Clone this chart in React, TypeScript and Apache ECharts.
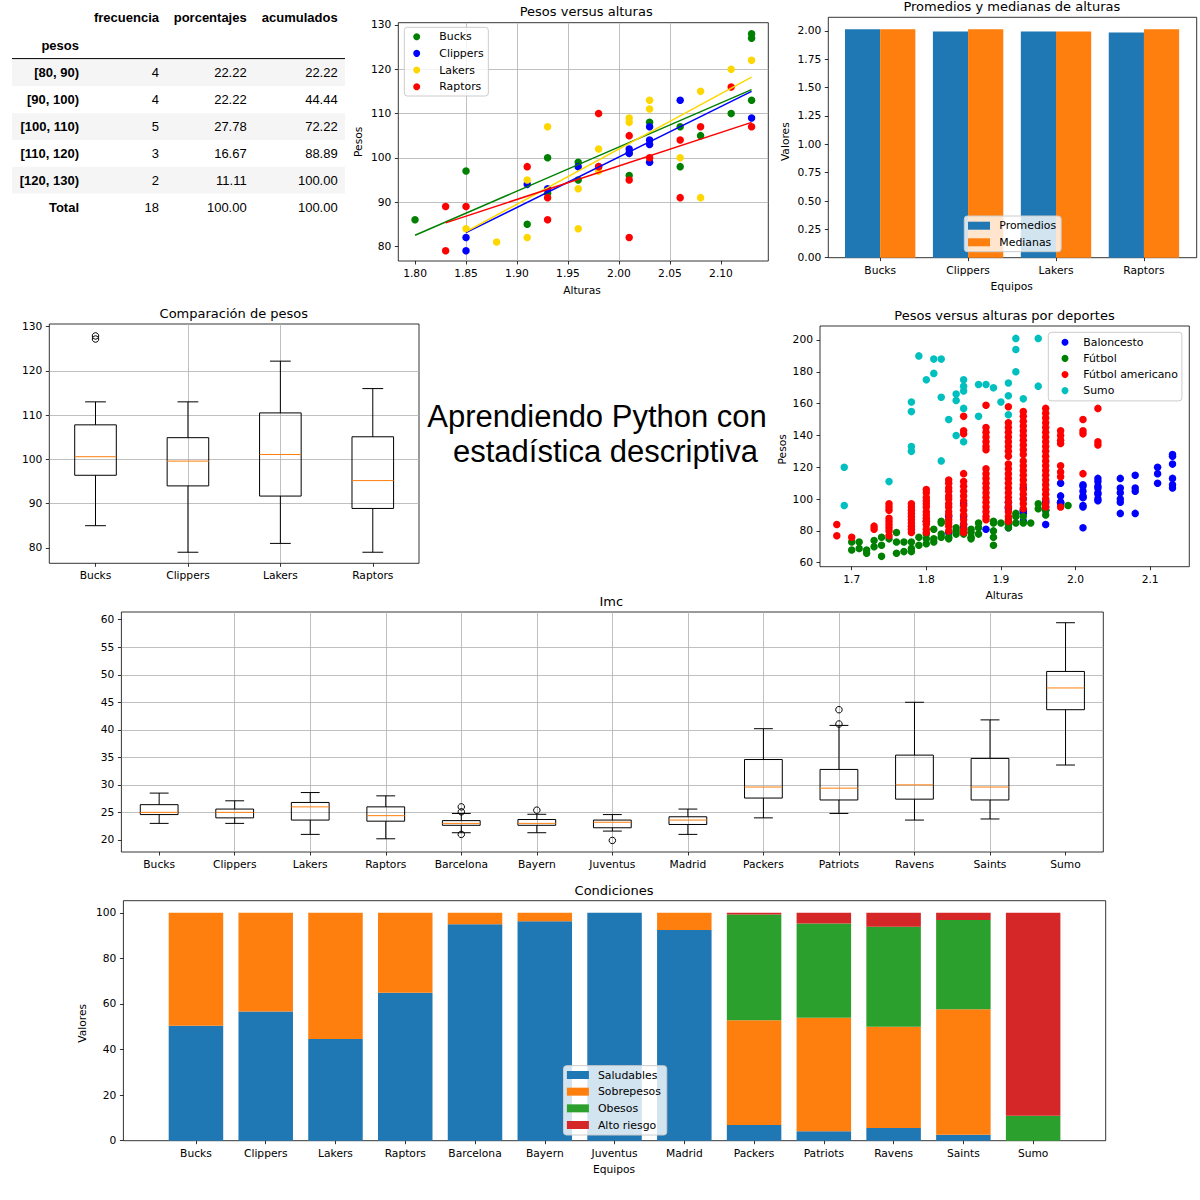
import React, { useEffect, useRef } from 'react';
import * as echarts from 'echarts';

const FONT = '"DejaVu Sans", sans-serif';
const TABLE_FONT = '"Liberation Sans", Arial, sans-serif';

// ---------------- DATA ----------------
const nbaTeams = ['Bucks', 'Clippers', 'Lakers', 'Raptors'];
const allTeams = ['Bucks', 'Clippers', 'Lakers', 'Raptors', 'Barcelona', 'Bayern', 'Juventus', 'Madrid', 'Packers', 'Patriots', 'Ravens', 'Saints', 'Sumo'];

// table (pesos de un equipo)
const tableColumns = ['frecuencia', 'porcentajes', 'acumulados'];
const tableIndexName = 'pesos';
const tableRows = ['[80, 90)', '[90, 100)', '[100, 110)', '[110, 120)', '[120, 130)', 'Total'];
const tableFrecuencia = ['4', '4', '5', '3', '2', '18'];
const tablePorcentajes = ['22.22', '22.22', '27.78', '16.67', '11.11', '100.00'];
const tableAcumulados = ['22.22', '44.44', '72.22', '88.89', '100.00', '100.00'];

// Pesos versus alturas  [altura, peso]
const bucksPts = [[1.80, 86], [1.85, 97], [1.91, 85], [1.93, 100], [1.93, 92], [1.96, 99], [1.96, 95], [2.01, 101], [2.01, 96], [2.03, 108], [2.06, 107], [2.06, 98], [2.08, 105], [2.11, 110], [2.13, 128], [2.13, 127], [2.13, 113]];
const clippersPts = [[1.85, 82], [1.85, 79], [1.91, 94], [1.93, 93], [1.96, 98], [1.98, 98], [2.01, 102], [2.01, 101], [2.03, 107], [2.03, 104], [2.03, 103], [2.03, 99], [2.06, 113], [2.13, 109]];
const lakersPts = [[1.85, 84], [1.88, 81], [1.91, 95], [1.91, 82], [1.93, 107], [1.96, 93], [1.96, 84], [1.98, 102], [1.98, 97], [2.01, 109], [2.01, 108], [2.03, 113], [2.03, 111], [2.06, 100], [2.08, 115], [2.08, 91], [2.11, 120], [2.13, 122]];
const raptorsPts = [[1.83, 89], [1.83, 79], [1.85, 89], [1.91, 98], [1.93, 91], [1.93, 86], [1.98, 110], [1.98, 98], [2.01, 105], [2.01, 95], [2.01, 82], [2.03, 100], [2.06, 104], [2.06, 91], [2.08, 107], [2.11, 116], [2.13, 107]];
// fitted lines (endpoints)
const bucksFit = [[1.80, 82.5], [2.13, 115.4]];
const clippersFit = [[1.85, 83.1], [2.13, 115.0]];
const lakersFit = [[1.85, 83.3], [2.13, 118.2]];
const raptorsFit = [[1.83, 85.3], [2.13, 108.0]];
const pesoAlturaXTicks = [1.80, 1.85, 1.90, 1.95, 2.00, 2.05, 2.10];
const pesoYTicks = [80, 90, 100, 110, 120, 130];

// Promedios y medianas de alturas
const alturaPromedios = [2.015, 1.994, 1.994, 1.985];
const alturaMedianas = [2.015, 2.015, 1.994, 2.015];
const valoresTicks = [0, 0.25, 0.5, 0.75, 1.0, 1.25, 1.5, 1.75, 2.0];

// Comparación de pesos: [whisker bajo, Q1, mediana, Q3, whisker alto]
const pesosBox = [
  [85, 96.4, 100.6, 107.8, 113],
  [79, 94.0, 99.6, 104.9, 113],
  [81, 91.7, 101.1, 110.5, 122.2],
  [79, 88.9, 95.2, 105.1, 116],
];
const pesosOutliers = [[1, 127.2], [1, 127.9]];

// Pesos versus alturas por deportes
const futbolPts = [[1.70, 73], [1.70, 68], [1.71, 73], [1.71, 69], [1.72, 68], [1.72, 66], [1.73, 74], [1.73, 70], [1.74, 76], [1.74, 71], [1.74, 64], [1.75, 75], [1.76, 79], [1.76, 73], [1.76, 66], [1.77, 73], [1.77, 67], [1.78, 73], [1.78, 69], [1.78, 67], [1.79, 76], [1.79, 71], [1.80, 78], [1.80, 75], [1.80, 72], [1.81, 81], [1.81, 75], [1.81, 73], [1.82, 86], [1.82, 85], [1.82, 78], [1.82, 76], [1.83, 76], [1.83, 75], [1.84, 82], [1.84, 80], [1.84, 78], [1.85, 80], [1.85, 78], [1.86, 81], [1.86, 79], [1.86, 76], [1.86, 75], [1.87, 85], [1.87, 82], [1.87, 78], [1.89, 86], [1.89, 85], [1.89, 80], [1.89, 76], [1.89, 71], [1.90, 85], [1.91, 87], [1.91, 84], [1.91, 82], [1.92, 91], [1.92, 89], [1.92, 85], [1.93, 89], [1.93, 85], [1.94, 85], [1.95, 97], [1.95, 94], [1.96, 93], [1.96, 90], [1.99, 96]];
const futbolAmericanoPts = [
  [1.68, 84], [1.68, 77], [1.70, 76], [1.73, 83], [1.73, 81],
  [1.75, 97], [1.75, 95], [1.75, 93], [1.75, 88], [1.75, 86], [1.75, 84], [1.75, 82], [1.75, 80], [1.75, 77],
  [1.78, 97], [1.78, 95], [1.78, 93], [1.78, 91], [1.78, 89], [1.78, 87], [1.78, 85], [1.78, 83], [1.78, 81], [1.78, 79],
  [1.80, 106], [1.80, 104], [1.80, 101], [1.80, 99], [1.80, 97], [1.80, 95], [1.80, 92], [1.80, 90], [1.80, 88], [1.80, 86], [1.80, 84], [1.80, 81], [1.80, 79],
  [1.83, 112], [1.83, 110], [1.83, 107], [1.83, 105], [1.83, 102], [1.83, 100], [1.83, 97], [1.83, 95], [1.83, 92], [1.83, 90], [1.83, 87], [1.83, 85], [1.83, 83], [1.83, 80],
  [1.85, 152], [1.85, 143], [1.85, 141], [1.85, 116], [1.85, 111], [1.85, 108], [1.85, 105], [1.85, 102], [1.85, 99], [1.85, 96], [1.85, 93], [1.85, 90], [1.85, 87], [1.85, 84], [1.85, 81], [1.85, 79],
  [1.88, 159], [1.88, 145], [1.88, 142], [1.88, 139], [1.88, 136], [1.88, 133], [1.88, 131], [1.88, 119], [1.88, 116], [1.88, 113], [1.88, 110], [1.88, 107], [1.88, 104], [1.88, 101], [1.88, 98], [1.88, 95], [1.88, 92], [1.88, 89], [1.88, 87],
  [1.91, 158], [1.91, 148], [1.91, 145], [1.91, 142], [1.91, 139], [1.91, 136], [1.91, 133], [1.91, 130], [1.91, 127], [1.91, 122], [1.91, 119], [1.91, 116], [1.91, 113], [1.91, 110], [1.91, 107], [1.91, 104], [1.91, 101], [1.91, 98], [1.91, 95], [1.91, 92], [1.91, 89], [1.91, 86],
  [1.93, 155], [1.93, 152], [1.93, 149], [1.93, 146], [1.93, 143], [1.93, 140], [1.93, 137], [1.93, 134], [1.93, 131], [1.93, 128], [1.93, 124], [1.93, 121], [1.93, 118], [1.93, 115], [1.93, 112], [1.93, 109], [1.93, 106], [1.93, 103], [1.93, 100], [1.93, 97], [1.93, 94],
  [1.96, 157], [1.96, 154], [1.96, 151], [1.96, 148], [1.96, 145], [1.96, 142], [1.96, 139], [1.96, 136], [1.96, 133], [1.96, 130], [1.96, 127], [1.96, 124], [1.96, 121], [1.96, 118], [1.96, 115], [1.96, 112], [1.96, 109], [1.96, 106], [1.96, 103], [1.96, 100], [1.96, 97], [1.96, 95],
  [1.98, 143], [1.98, 140], [1.98, 137], [1.98, 135], [1.98, 121], [1.98, 117], [1.98, 114], [1.98, 95],
  [2.01, 150], [2.01, 143], [2.01, 141], [2.01, 116],
  [2.03, 157], [2.03, 136], [2.03, 134],
];
const sumoPts = [[1.69, 120], [1.69, 96], [1.75, 111], [1.78, 161], [1.78, 155], [1.78, 133], [1.78, 130], [1.79, 190], [1.80, 175], [1.81, 179], [1.81, 188], [1.82, 188], [1.82, 164], [1.82, 124], [1.83, 150], [1.84, 166], [1.84, 162], [1.84, 140], [1.85, 175], [1.85, 171], [1.85, 168], [1.85, 157], [1.85, 136], [1.87, 172], [1.87, 152], [1.88, 172], [1.89, 170], [1.90, 161], [1.91, 173], [1.91, 165], [1.91, 153], [1.92, 201], [1.92, 194], [1.92, 180], [1.93, 163], [1.95, 201], [1.95, 171]];
const deportesXTicks = [1.7, 1.8, 1.9, 2.0, 2.1];
const deportesYTicks = [60, 80, 100, 120, 140, 160, 180, 200];

// Imc: [whisker bajo, Q1, mediana, Q3, whisker alto]
const imcBox = [
  [23.0, 24.6, 25.0, 26.4, 28.5],
  [23.0, 24.0, 25.0, 25.6, 27.1],
  [21.0, 23.6, 26.0, 26.8, 28.6],
  [20.2, 23.4, 24.4, 26.0, 28.0],
  [21.3, 22.65, 23.0, 23.5, 24.8],
  [21.3, 22.65, 23.0, 23.7, 24.65],
  [21.6, 22.2, 23.2, 23.6, 24.6],
  [21.0, 22.8, 23.6, 24.2, 25.6],
  [24.0, 27.6, 29.6, 34.6, 40.2],
  [24.8, 27.25, 29.4, 32.8, 40.8],
  [23.6, 27.4, 30.0, 35.4, 45.0],
  [23.8, 27.25, 29.6, 34.8, 41.8],
  [33.6, 43.65, 47.6, 50.6, 59.45],
];
const imcOutliers = [[5, 26.0], [5, 25.1], [5, 21.0], [6, 25.4], [7, 19.9], [10, 41.05], [10, 43.65]];
const imcYTicks = [20, 25, 30, 35, 40, 45, 50, 55, 60];

// Condiciones (%)
const saludables = [50.4, 56.7, 44.6, 64.9, 95.0, 96.3, 100, 92.4, 6.9, 4.2, 5.6, 2.6, 0];
const sobrepesos = [49.6, 43.3, 55.4, 35.1, 5.0, 3.7, 0, 7.6, 46.0, 49.7, 44.4, 55.1, 0];
const obesos = [0, 0, 0, 0, 0, 0, 0, 0, 46.4, 41.4, 43.9, 39.1, 11.0];
const altoRiesgo = [0, 0, 0, 0, 0, 0, 0, 0, 0.7, 4.7, 6.1, 3.2, 89.0];
const condYTicks = [0, 20, 40, 60, 80, 100];

const bigTitle = ['Aprendiendo Python con', 'estadística descriptiva'];

// ---------------- HELPERS ----------------
const TICK_FS = 10.7;
const LEGEND_FS = 10.9;

function vAxis(gridIndex: number, min: number, max: number, step: number, ticks: number[], fmt: (v: number) => string, grid: boolean) {
  return {
    type: 'value', gridIndex, min, max, minInterval: step, maxInterval: step,
    axisLine: { show: false, onZero: false },
    axisTick: { show: true, customValues: ticks, length: 3.5, lineStyle: { color: '#000', width: 0.8 } },
    axisLabel: { show: true, customValues: ticks, formatter: (v: number) => fmt(v), margin: 7, color: '#000', fontFamily: FONT, fontSize: TICK_FS, hideOverlap: false },
    splitLine: { show: grid, showMinLine: false, showMaxLine: false, lineStyle: { color: '#b0b0b0', width: 0.8 } },
    splitArea: { show: false },
  };
}

function txt(x: number, y: number, s: string, font: string, align = 'center', rotation = 0) {
  return {
    type: 'text', x, y, rotation, silent: true,
    style: { text: s, font, fill: '#000', align, textAlign: align, verticalAlign: 'middle', textVerticalAlign: 'middle' },
  };
}

function makeBoxRenderer(widthFrac: number) {
  return function (_params: any, api: any) {
    const pos = api.value(0);
    const lo = api.coord([pos, api.value(1)]);
    const q1 = api.coord([pos, api.value(2)]);
    const med = api.coord([pos, api.value(3)]);
    const q3 = api.coord([pos, api.value(4)]);
    const hi = api.coord([pos, api.value(5)]);
    const unit = api.size([1, 0])[0];
    const w = unit * widthFrac;
    const cx = lo[0];
    const st = () => ({ stroke: '#000', lineWidth: 1, fill: 'none' });
    return {
      type: 'group',
      children: [
        { type: 'line', shape: { x1: cx, y1: q1[1], x2: cx, y2: lo[1] }, style: st() },
        { type: 'line', shape: { x1: cx, y1: q3[1], x2: cx, y2: hi[1] }, style: st() },
        { type: 'line', shape: { x1: cx - w / 4, y1: lo[1], x2: cx + w / 4, y2: lo[1] }, style: st() },
        { type: 'line', shape: { x1: cx - w / 4, y1: hi[1], x2: cx + w / 4, y2: hi[1] }, style: st() },
        { type: 'rect', shape: { x: cx - w / 2, y: q3[1], width: w, height: q1[1] - q3[1] }, style: st() },
        { type: 'line', shape: { x1: cx - w / 2, y1: med[1], x2: cx + w / 2, y2: med[1] }, style: { stroke: '#ff7f0e', lineWidth: 1 } },
      ],
    };
  };
}

function legendCfg(left: number, top: number, names: string[], icon: string, iw: number, ih: number, gap: number, padding: number[], textPad: number) {
  return {
    show: true, orient: 'vertical', left, top, data: names, icon, itemWidth: iw, itemHeight: ih, itemGap: gap,
    padding, selectedMode: false, backgroundColor: 'rgba(255,255,255,0.8)', borderColor: '#cccccc', borderWidth: 1, borderRadius: 3,
    itemStyle: { opacity: 1 },
    textStyle: { fontFamily: FONT, fontSize: LEGEND_FS, color: '#000', lineHeight: 12, padding: [0, 0, 0, textPad] },
  };
}

function buildOption() {
  const gridBase = { show: true, borderColor: '#000', borderWidth: 0.8, backgroundColor: 'transparent', containLabel: false, outerBoundsMode: 'none' };
  const grids = [
    { left: 398.3, top: 22.7, width: 370, height: 238.3 },
    { left: 828.3, top: 17.3, width: 368.4, height: 240.4 },
    { left: 49.3, top: 324, width: 369.7, height: 239.3 },
    { left: 820, top: 326, width: 369.3, height: 240.7 },
    { left: 121.4, top: 612, width: 981.9, height: 240 },
    { left: 123.4, top: 900.7, width: 982.3, height: 240 },
  ].map((g) => ({ ...g, ...gridBase }));

  const f2 = (v: number) => v.toFixed(2);
  const f1 = (v: number) => v.toFixed(1);
  const f0 = (v: number) => String(Math.round(v));

  const xAxis = [
    vAxis(0, 1.7836, 2.1464, 0.05, pesoAlturaXTicks, f2, true),
    vAxis(1, -0.59, 3.6, 1, nbaTeams.map((_, i) => i), (v) => nbaTeams[Math.round(v)], false),
    vAxis(2, 0.5, 4.5, 1, nbaTeams.map((_, i) => i + 1), (v) => nbaTeams[Math.round(v) - 1], true),
    vAxis(3, 1.6575, 2.1525, 0.1, deportesXTicks, f1, false),
    vAxis(4, 0.5, 13.5, 1, allTeams.map((_, i) => i + 1), (v) => allTeams[Math.round(v) - 1], true),
    vAxis(5, -1.04, 13.04, 1, allTeams.map((_, i) => i), (v) => allTeams[Math.round(v)], false),
  ].map((a) => ({ ...a, position: 'bottom' }));

  const yAxis = [
    vAxis(0, 76.7, 130.5, 10, pesoYTicks, f0, true),
    vAxis(1, 0, 2.12, 0.25, valoresTicks, f2, false),
    vAxis(2, 76.5, 130.6, 10, pesoYTicks, f0, true),
    vAxis(3, 57.5, 208.8, 20, deportesYTicks, f0, false),
    vAxis(4, 17.8, 61.4, 5, imcYTicks, f0, true),
    vAxis(5, 0, 105.3, 20, condYTicks, f0, false),
  ].map((a) => ({ ...a, position: 'left' }));

  const sc = (name: string, data: number[][], color: string, gi: number) => ({
    type: 'scatter', name, data, xAxisIndex: gi, yAxisIndex: gi, symbol: 'circle', symbolSize: 7.5,
    itemStyle: { color, borderWidth: 0, opacity: 1 }, emphasis: { disabled: true },
  });
  const fit = (name: string, data: number[][], color: string) => ({
    type: 'line', name, data, xAxisIndex: 0, yAxisIndex: 0, symbol: 'none', showSymbol: false,
    lineStyle: { color, width: 1.5 }, emphasis: { disabled: true }, z: 3,
  });
  const flier = (name: string, data: number[][], gi: number) => ({
    type: 'scatter', name, data, xAxisIndex: gi, yAxisIndex: gi, symbol: 'circle', symbolSize: 6.5,
    itemStyle: { color: 'rgba(0,0,0,0)', borderColor: '#000', borderWidth: 1, opacity: 1 }, emphasis: { disabled: true }, z: 4,
  });
  const box = (name: string, data: number[][], gi: number, frac: number) => ({
    type: 'custom', name, xAxisIndex: gi, yAxisIndex: gi,
    data: data.map((b, i) => [i + 1, ...b]),
    encode: { x: 0, y: [1, 2, 3, 4, 5] },
    renderItem: makeBoxRenderer(frac), z: 3,
  });
  // value first so that the stack is computed on the y dimension
  const condBar = (name: string, vals: number[], color: string) => ({
    type: 'bar', name, stack: 'cond', xAxisIndex: 5, yAxisIndex: 5, barWidth: 54.5,
    data: vals.map((v, i) => [v, i]), encode: { x: 1, y: 0 },
    itemStyle: { color }, emphasis: { disabled: true },
  });

  const series: any[] = [
    sc('Bucks', bucksPts, '#008000', 0),
    sc('Clippers', clippersPts, '#0000ff', 0),
    sc('Lakers', lakersPts, '#ffd700', 0),
    sc('Raptors', raptorsPts, '#ff0000', 0),
    fit('Bucks ajuste', bucksFit, '#008000'),
    fit('Clippers ajuste', clippersFit, '#0000ff'),
    fit('Lakers ajuste', lakersFit, '#ffd700'),
    fit('Raptors ajuste', raptorsFit, '#ff0000'),
    {
      type: 'bar', name: 'Promedios', xAxisIndex: 1, yAxisIndex: 1, barWidth: 35.2, barGap: '-100%',
      data: alturaPromedios.map((v, i) => [i - 0.2, v]), itemStyle: { color: '#1f77b4' }, emphasis: { disabled: true },
    },
    {
      type: 'bar', name: 'Medianas', xAxisIndex: 1, yAxisIndex: 1, barWidth: 35.2, barGap: '-100%',
      data: alturaMedianas.map((v, i) => [i + 0.2, v]), itemStyle: { color: '#ff7f0e' }, emphasis: { disabled: true },
    },
    box('Pesos caja', pesosBox, 2, 0.45),
    flier('Pesos atípicos', pesosOutliers, 2),
    sc('Baloncesto', [...bucksPts, ...clippersPts, ...lakersPts, ...raptorsPts], '#0000ff', 3),
    sc('Fútbol', futbolPts, '#008000', 3),
    sc('Fútbol americano', futbolAmericanoPts, '#ff0000', 3),
    sc('Sumo', sumoPts, '#00bfbf', 3),
    box('Imc caja', imcBox, 4, 0.5),
    flier('Imc atípicos', imcOutliers, 4),
    condBar('Saludables', saludables, '#1f77b4'),
    condBar('Sobrepesos', sobrepesos, '#ff7f0e'),
    condBar('Obesos', obesos, '#2ca02c'),
    condBar('Alto riesgo', altoRiesgo, '#d62728'),
  ];

  const legend = [
    legendCfg(404.3, 27.3, ['Bucks', 'Clippers', 'Lakers', 'Raptors'], 'circle', 7, 7, 4.67, [3.4, 4.7, 3.3, 8.9], 14.1),
    legendCfg(964.3, 216, ['Promedios', 'Medianas'], 'rect', 22, 8, 4.6, [3.7, 5, 3.4, 3.7], 4.3),
    legendCfg(1048.3, 332.3, ['Baloncesto', 'Fútbol', 'Fútbol americano', 'Sumo'], 'circle', 7, 7, 4.1, [4, 4, 4.3, 13.2], 9.8),
    legendCfg(563.5, 1065.7, ['Saludables', 'Sobrepesos', 'Obesos', 'Alto riesgo'], 'rect', 22, 8, 4.67, [3.3, 5.8, 4, 3.4], 4),
  ];

  const TITLE_FONT = `13px ${FONT}`;
  const LABEL_FONT = `${TICK_FS}px ${FONT}`;
  const TB = `bold 13px ${TABLE_FONT}`;
  const TN = `13px ${TABLE_FONT}`;
  const rowY = [72.3, 99.2, 126.5, 153.4, 180.2, 207.2];
  const stripeTop = [59.3, 86.1, 113.3, 140.1, 166.8];
  const colRight = [159, 246.7, 337.7];

  const graphic: any[] = [];
  // table
  stripeTop.forEach((y, i) => {
    if (i % 2 === 0) graphic.push({ type: 'rect', silent: true, shape: { x: 12, y, width: 333, height: 26.8 }, style: { fill: '#f5f5f5' } });
  });
  graphic.push({ type: 'line', silent: true, shape: { x1: 12, y1: 58.6, x2: 345, y2: 58.6 }, style: { stroke: '#000', lineWidth: 1 } });
  tableColumns.forEach((c, j) => graphic.push(txt(colRight[j], 17.3, c, TB, 'right')));
  graphic.push(txt(79, 45, tableIndexName, TB, 'right'));
  tableRows.forEach((r, i) => {
    graphic.push(txt(79, rowY[i], r, TB, 'right'));
    graphic.push(txt(colRight[0], rowY[i], tableFrecuencia[i], TN, 'right'));
    graphic.push(txt(colRight[1], rowY[i], tablePorcentajes[i], TN, 'right'));
    graphic.push(txt(colRight[2], rowY[i], tableAcumulados[i], TN, 'right'));
  });
  // chart titles & axis labels
  graphic.push(txt(586.2, 11, 'Pesos versus alturas', TITLE_FONT));
  graphic.push(txt(582, 290, 'Alturas', LABEL_FONT));
  graphic.push(txt(358, 141.8, 'Pesos', LABEL_FONT, 'center', Math.PI / 2));
  graphic.push(txt(1011.8, 6.7, 'Promedios y medianas de alturas', TITLE_FONT));
  graphic.push(txt(1011.7, 286, 'Equipos', LABEL_FONT));
  graphic.push(txt(785, 141.7, 'Valores', LABEL_FONT, 'center', Math.PI / 2));
  graphic.push(txt(233.8, 313.3, 'Comparación de pesos', TITLE_FONT));
  graphic.push(txt(1004.5, 315.7, 'Pesos versus alturas por deportes', TITLE_FONT));
  graphic.push(txt(1004.3, 595, 'Alturas', LABEL_FONT));
  graphic.push(txt(782.3, 449.3, 'Pesos', LABEL_FONT, 'center', Math.PI / 2));
  graphic.push(txt(611.3, 601, 'Imc', TITLE_FONT));
  graphic.push(txt(614, 890, 'Condiciones', TITLE_FONT));
  graphic.push(txt(614, 1169.3, 'Equipos', LABEL_FONT));
  graphic.push(txt(82, 1023.3, 'Valores', LABEL_FONT, 'center', Math.PI / 2));
  // big title
  graphic.push(txt(427.3, 416.5, bigTitle[0], `31px ${TABLE_FONT}`, 'left'));
  graphic.push(txt(453, 451.5, bigTitle[1], `31px ${TABLE_FONT}`, 'left'));

  return {
    animation: false,
    backgroundColor: '#ffffff',
    textStyle: { fontFamily: FONT },
    grid: grids,
    xAxis,
    yAxis,
    legend,
    series,
    graphic: { elements: graphic },
  };
}

export default function App() {
  const ref = useRef<HTMLDivElement>(null);
  useEffect(() => {
    const chart = echarts.init(ref.current as HTMLDivElement, null, { renderer: 'svg' });
    chart.setOption(buildOption() as any);
    return () => chart.dispose();
  }, []);
  return <div ref={ref} style={{ position: 'absolute', left: 0, top: 0, width: 1200, height: 1200, background: '#fff' }} />;
}
